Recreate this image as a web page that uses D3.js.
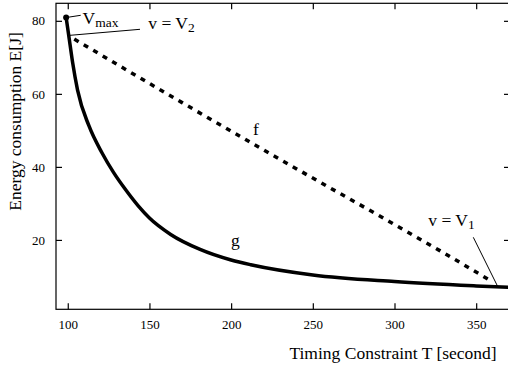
<!DOCTYPE html>
<html>
<head>
<meta charset="utf-8">
<script src="https://cdn.jsdelivr.net/npm/d3@7"></script>
<style>
  body { margin: 0; background: #fff; }
  svg { display: block; font-family: "Liberation Serif", "Times New Roman", serif; }
</style>
</head>
<body>
<svg id="chart" width="508" height="366"></svg>
<script>
// curve g (solid): energy at the optimal speed profile
const gT = [99, 100.6, 103, 106, 113, 121, 128, 135, 143, 150, 163, 181, 200, 212, 250, 300, 350, 370];
const gE = [80.9, 76.0, 68.5, 61.0, 51.2, 43.8, 38.5, 34.0, 29.4, 26.0, 21.5, 17.4, 14.5, 13.2, 10.4, 8.6, 7.4, 7.0];

// curve f (dashed)
const fT = [104, 170, 236, 297, 328, 359];
const fE = [75, 57.6, 40.5, 25, 17, 8.8];

const xTicks = [100, 150, 200, 250, 300, 350];
const yTicks = [20, 40, 60, 80];

const svg = d3.select("#chart");

const x = d3.scaleLinear().domain([92.8, 370.7]).range([56, 510]);
const y = d3.scaleLinear().domain([1, 84.8]).range([309.3, 3.3]);

// frame
svg.append("rect")
    .attr("x", 56).attr("y", 3.3)
    .attr("width", 454).attr("height", 306)
    .attr("fill", "none")
    .attr("stroke", "#000")
    .attr("stroke-width", 1.2);

function styleAxis(g) {
    g.select(".domain").remove();
    g.selectAll(".tick line").attr("stroke", "#000").attr("stroke-width", 1.2);
    g.selectAll(".tick text").attr("fill", "#000").style("font-size", "13px")
        .style("font-family", "'Liberation Serif', 'Times New Roman', serif");
}

svg.append("g")
    .attr("transform", "translate(0,309.3)")
    .call(d3.axisBottom(x).tickValues(xTicks).tickSizeInner(-6).tickSizeOuter(0).tickPadding(10))
    .call(styleAxis);

svg.append("g")
    .attr("transform", "translate(0,3.3)")
    .call(d3.axisTop(x).tickValues(xTicks).tickSizeInner(-6).tickSizeOuter(0).tickFormat(""))
    .call(styleAxis);

svg.append("g")
    .attr("transform", "translate(56,0)")
    .call(d3.axisLeft(y).tickValues(yTicks).tickSizeInner(-6).tickSizeOuter(0).tickPadding(11))
    .call(styleAxis);

svg.append("g")
    .attr("transform", "translate(510,0)")
    .call(d3.axisRight(y).tickValues(yTicks).tickSizeInner(-6).tickSizeOuter(0).tickFormat(""))
    .call(styleAxis);

// axis titles
svg.append("text")
    .attr("x", 496.7).attr("y", 359.3)
    .attr("text-anchor", "end")
    .style("font-size", "17.5px")
    .text("Timing Constraint T [second]");

svg.append("text")
    .attr("transform", "translate(21,121.5) rotate(-90)")
    .attr("text-anchor", "middle")
    .style("font-size", "17.5px")
    .text("Energy consumption E[J]");

// curves
const gData = gT.map((t, i) => ({ t: t, e: gE[i] }));
const fData = fT.map((t, i) => ({ t: t, e: fE[i] }));

const line = d3.line()
    .x(d => x(d.t))
    .y(d => y(d.e))
    .curve(d3.curveMonotoneX);

svg.append("path")
    .datum(fData)
    .attr("fill", "none")
    .attr("stroke", "#000")
    .attr("stroke-width", 3.5)
    .attr("stroke-dasharray", "5,6")
    .attr("d", line);

svg.append("path")
    .datum(gData)
    .attr("fill", "none")
    .attr("stroke", "#000")
    .attr("stroke-width", 3.5)
    .attr("d", line);

// Vmax point
svg.append("circle")
    .attr("cx", x(gT[0])).attr("cy", y(gE[0]))
    .attr("r", 3)
    .attr("fill", "#000");

// leader lines
svg.append("line")
    .attr("x1", x(gT[0])).attr("y1", y(gE[0]))
    .attr("x2", 80.7).attr("y2", 15.3)
    .attr("stroke", "#000").attr("stroke-width", 1);

svg.append("line")
    .attr("x1", x(gT[1])).attr("y1", y(gE[1]))
    .attr("x2", 140).attr("y2", 29.3)
    .attr("stroke", "#000").attr("stroke-width", 1);

svg.append("line")
    .attr("x1", 473.3).attr("y1", 237.3)
    .attr("x2", x(363)).attr("y2", y(7.4))
    .attr("stroke", "#000").attr("stroke-width", 1);

// labels
const vmax = svg.append("text").attr("x", 82.5).attr("y", 24).style("font-size", "17.5px");
vmax.append("tspan").text("V");
vmax.append("tspan").attr("dy", 3).style("font-size", "13.5px").text("max");

const v2 = svg.append("text").attr("x", 148.3).attr("y", 28.5).style("font-size", "17.5px");
v2.append("tspan").text("v = V");
v2.append("tspan").attr("dy", 3).style("font-size", "13.5px").text("2");

const v1 = svg.append("text").attr("x", 428.3).attr("y", 226).style("font-size", "17.5px");
v1.append("tspan").text("v = V");
v1.append("tspan").attr("dy", 3).style("font-size", "13.5px").text("1");

svg.append("text").attr("x", 253).attr("y", 135).style("font-size", "17.5px").text("f");
svg.append("text").attr("x", 231).attr("y", 246).style("font-size", "17.5px").text("g");
</script>
</body>
</html>
